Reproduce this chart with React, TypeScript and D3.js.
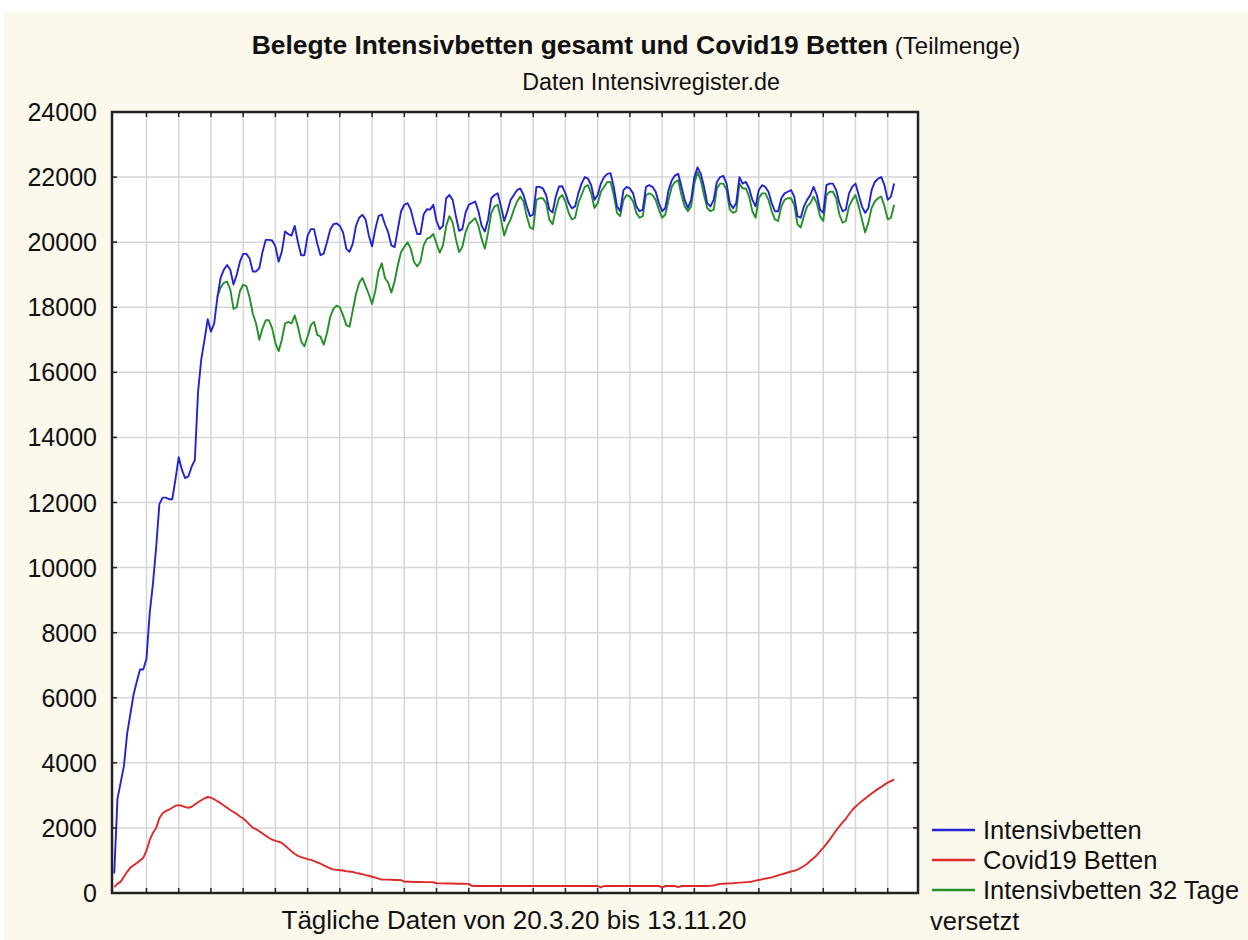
import React from "react";
import * as d3 from "d3";

// Tägliche Werte ab 20.3.20 (Index = Tag)
const intensivBetten = [
  600, 2900, 3400, 3900, 4900, 5500, 6100, 6500, 6870, 6870,
  7200, 8600, 9500, 10620, 11950, 12150, 12150, 12100, 12100, 12720,
  13390, 13000, 12750, 12800, 13100, 13300, 15400, 16400, 17000, 17630,
  17250, 17500, 18300, 18900, 19150, 19300, 19150, 18700, 19000, 19400,
  19640, 19640, 19500, 19100, 19100, 19200, 19700, 20070, 20070, 20050,
  19870, 19400, 19710, 20330, 20250, 20200, 20500, 20000, 19600, 19600,
  20200, 20400, 20400, 19950, 19600, 19650, 20000, 20380, 20550, 20580,
  20500, 20300, 19800, 19700, 19950, 20500, 20750, 20840, 20700, 20200,
  19870, 20400, 20800, 20850, 20550, 20300, 19900, 19850, 20400, 20950,
  21150, 21200, 21000, 20600, 20250, 20250, 20850, 21010, 21000, 21150,
  20650, 20400, 20500, 21350, 21450, 21300, 20800, 20350, 20400, 20900,
  21150, 21200, 21250, 20950, 20500, 20330, 20700, 21350, 21450, 21500,
  21100, 20650, 20950, 21300, 21450, 21600, 21650, 21450, 21100, 20800,
  20850, 21700, 21700, 21650, 21450, 21000, 20910, 21400, 21710, 21720,
  21500, 21200, 21040, 21100, 21500, 21800, 22000, 21950, 21750, 21300,
  21450, 21800, 22000, 22100, 22120, 21700, 21100, 20950, 21600, 21700,
  21650, 21500, 21100, 20950, 21000, 21700, 21750, 21700, 21550, 21200,
  20950, 21050, 21600, 21900, 22050, 22100, 21700, 21300, 21050, 21300,
  22000, 22300, 22100, 21700, 21200, 21100, 21300, 21850, 22000, 22040,
  21800, 21200, 21040, 21200, 22000, 21800, 21850, 21650, 21300, 21100,
  21600, 21750, 21700, 21550, 21200, 20950, 20950, 21350, 21500, 21550,
  21600, 21400, 20800, 20750, 21100, 21300, 21450, 21700, 21450, 21000,
  20900, 21750, 21800, 21800, 21600, 21200, 20950, 21000, 21500, 21700,
  21800, 21450, 21100, 20900, 21050, 21600, 21850, 21950, 22000, 21750,
  21300, 21400, 21800,
];

const covidBetten = [
  180, 280, 350, 500, 650, 780, 850, 920, 1000, 1080,
  1300, 1630, 1850, 2000, 2300, 2450, 2520, 2560, 2620, 2680,
  2700, 2680, 2640, 2620, 2650, 2720, 2790, 2850, 2910, 2950,
  2930, 2880, 2820, 2760, 2690, 2620, 2550, 2490, 2430, 2350,
  2290, 2200, 2100, 2000, 1960, 1900, 1830, 1760, 1690, 1640,
  1600, 1580, 1540, 1460, 1370, 1280, 1200, 1140, 1100, 1070,
  1040, 1020, 980, 940, 900, 850, 800, 760, 720, 710,
  700, 690, 670, 660, 645, 620, 600, 580, 550, 530,
  500, 470, 440, 410, 410, 410, 405, 400, 400, 395,
  350, 345, 345, 340, 340, 340, 335, 335, 335, 330,
  300, 295, 295, 290, 290, 290, 285, 285, 285, 280,
  280, 220, 215, 215, 215, 215, 215, 215, 215, 215,
  215, 215, 215, 215, 215, 215, 215, 215, 215, 215,
  215, 215, 215, 215, 215, 215, 215, 215, 215, 215,
  215, 215, 215, 215, 215, 215, 215, 215, 215, 215,
  215, 170, 215, 215, 215, 215, 215, 215, 215, 215,
  215, 215, 215, 215, 215, 215, 215, 215, 215, 215,
  175, 215, 215, 215, 215, 180, 215, 215, 215, 215,
  215, 215, 215, 215, 215, 220, 230, 260, 280, 285,
  290, 295, 300, 310, 320, 325, 335, 340, 355, 380,
  400, 420, 440, 460, 480, 510, 540, 570, 600, 630,
  660, 680, 720, 770, 830, 900, 990, 1070, 1160, 1280,
  1390, 1510, 1640, 1780, 1920, 2050, 2170, 2280, 2420, 2550,
  2650, 2740, 2830, 2900, 2980, 3060, 3130, 3200, 3260, 3330,
  3390, 3440, 3490,
];

// "Intensivbetten 32 Tage versetzt" beginnt bei Tag 32
const versetztStart = 32;
const intensivVersetzt = [
  18330, 18600, 18750, 18790, 18550, 17950, 18000, 18500,
  18690, 18650, 18300, 17800, 17500, 17000, 17350, 17600, 17600, 17350,
  16900, 16650, 17000, 17500, 17550, 17500, 17750, 17400, 16950, 16800,
  17100, 17450, 17550, 17150, 17100, 16850, 17200, 17700, 17950, 18050,
  18000, 17750, 17450, 17400, 17900, 18400, 18750, 18900, 18650, 18400,
  18100, 18500, 19100, 19350, 18900, 18750, 18450, 18800, 19300, 19700,
  19850, 20000, 19800, 19400, 19250, 19400, 19900, 20100, 20150, 20250,
  19950, 19680, 19900, 20500, 20800, 20600, 20100, 19700, 19850, 20300,
  20550, 20650, 20740, 20500, 20100, 19800, 20300, 20900, 21100, 21150,
  20700, 20200, 20500, 20700, 21000, 21250, 21400, 21250, 20800, 20450,
  20400, 21300, 21350, 21350, 21200, 20700, 20550, 21000, 21350, 21450,
  21250, 20900, 20700, 20750, 21200, 21450, 21700, 21750, 21500, 21050,
  21200, 21550, 21700, 21850, 21850, 21450, 20900, 20800, 21300, 21450,
  21400, 21250, 20900, 20750, 20800, 21450, 21500, 21450, 21300, 21000,
  20750, 20850, 21300, 21700, 21850, 21900, 21450, 21100, 20950, 21100,
  21800, 22150, 21900, 21450, 21050, 20950, 21000, 21650, 21800, 21800,
  21600, 21000, 20900, 20950, 21800, 21650, 21650, 21400, 20950, 20750,
  21350, 21500, 21500, 21300, 20950, 20700, 20650, 21100, 21300, 21350,
  21350, 21150, 20550, 20450, 20800, 21100, 21200, 21400, 21200, 20800,
  20650, 21450, 21550, 21550, 21350, 20850, 20600, 20650, 21100, 21300,
  21450, 21100, 20700, 20300, 20600, 21050, 21250, 21350, 21400, 21100,
  20700, 20750, 21150,
];

const yTicks = [0, 2000, 4000, 6000, 8000, 10000, 12000, 14000, 16000, 18000, 20000, 22000, 24000];
const xGridDays = [10, 20, 30, 40, 50, 60, 70, 80, 90, 100, 110, 120, 130, 140, 150, 160, 170, 180, 190, 200, 210, 220, 230, 240];

const legendLabels = ["Intensivbetten", "Covid19 Betten", "Intensivbetten 32 Tage"];
const colors = ["#2323d2", "#dc2a2a", "#23902a"];

const width = 1248;
const height = 940;
const margin = { top: 112, right: 330, bottom: 47, left: 112 };
const font = "'Liberation Sans', Arial, sans-serif";

export default function App() {
  const innerWidth = width - margin.left - margin.right;
  const innerHeight = height - margin.top - margin.bottom;

  const x = d3.scaleLinear().domain([-0.7, 249.4]).range([0, innerWidth]);
  const y = d3.scaleLinear().domain([0, 24000]).range([innerHeight, 0]);

  const line = d3
    .line<[number, number]>()
    .x(d => x(d[0]))
    .y(d => y(d[1]));

  const series = [
    intensivBetten.map((v, i) => [i, v] as [number, number]),
    covidBetten.map((v, i) => [i, v] as [number, number]),
    intensivVersetzt.map((v, i) => [i + versetztStart, v] as [number, number]),
  ];
  // green below blue, red on top
  const drawOrder = [2, 0, 1];

  return (
    <svg
      width={width}
      height={height}
      style={{ position: "absolute", left: 0, top: 0, fontFamily: font }}
    >
      <rect x={0} y={0} width={width} height={height} fill="#ffffff" />
      <rect x={4} y={12} width={width - 4} height={height - 12} fill="#fcf8ec" />

      <text x={636} y={54} textAnchor="middle" fontSize={26.4} fill="#111">
        <tspan fontWeight="bold">Belegte Intensivbetten gesamt und Covid19 Betten</tspan>
        <tspan fontSize={24}> (Teilmenge)</tspan>
      </text>
      <text x={651} y={90} textAnchor="middle" fontSize={23.3} fill="#111">
        Daten Intensivregister.de
      </text>

      <g transform={`translate(${margin.left},${margin.top})`}>
        <rect x={0} y={0} width={innerWidth} height={innerHeight} fill="#ffffff" />

        {/* grid */}
        {xGridDays.map(d => (
          <line key={"gx" + d} x1={x(d)} x2={x(d)} y1={0} y2={innerHeight} stroke="#d6d6d6" strokeWidth={1.5} />
        ))}
        {yTicks.map(t => (
          <line key={"gy" + t} x1={0} x2={innerWidth} y1={y(t)} y2={y(t)} stroke="#d6d6d6" strokeWidth={1.5} />
        ))}

        {/* lines */}
        {drawOrder.map(k => (
          <path key={"s" + k} d={line(series[k]) || ""} fill="none" stroke={colors[k]} strokeWidth={1.9} strokeLinejoin="round" />
        ))}

        {/* frame ticks */}
        {xGridDays.map(d => (
          <g key={"tx" + d} stroke="#222" strokeWidth={1.5}>
            <line x1={x(d)} x2={x(d)} y1={0} y2={5} />
            <line x1={x(d)} x2={x(d)} y1={innerHeight} y2={innerHeight - 5} />
          </g>
        ))}
        {yTicks.map(t => (
          <g key={"ty" + t} stroke="#222" strokeWidth={1.5}>
            <line x1={0} x2={5} y1={y(t)} y2={y(t)} />
            <line x1={innerWidth} x2={innerWidth - 5} y1={y(t)} y2={y(t)} />
          </g>
        ))}
        <rect x={0} y={0} width={innerWidth} height={innerHeight} fill="none" stroke="#222" strokeWidth={2.5} />

        {/* y labels */}
        {yTicks.map(t => (
          <text key={"ly" + t} x={-15} y={y(t)} dy="0.36em" textAnchor="end" fontSize={25} fill="#111">
            {t}
          </text>
        ))}

        <text x={innerWidth / 2 - 1} y={innerHeight + 36} textAnchor="middle" fontSize={26} fill="#111">
          Tägliche Daten von 20.3.20 bis 13.11.20
        </text>
      </g>

      {/* legend */}
      <g transform="translate(932,830)">
        {legendLabels.map((l, i) => (
          <g key={l} transform={`translate(0,${i * 30})`}>
            <line x1={0} x2={43} y1={0} y2={0} stroke={colors[i]} strokeWidth={2.5} />
            <text x={51} y={0} dy="0.36em" fontSize={25.5} fill="#111">
              {l}
            </text>
          </g>
        ))}
        <text x={-2} y={91} dy="0.36em" fontSize={25.5} fill="#111">
          versetzt
        </text>
      </g>
    </svg>
  );
}
